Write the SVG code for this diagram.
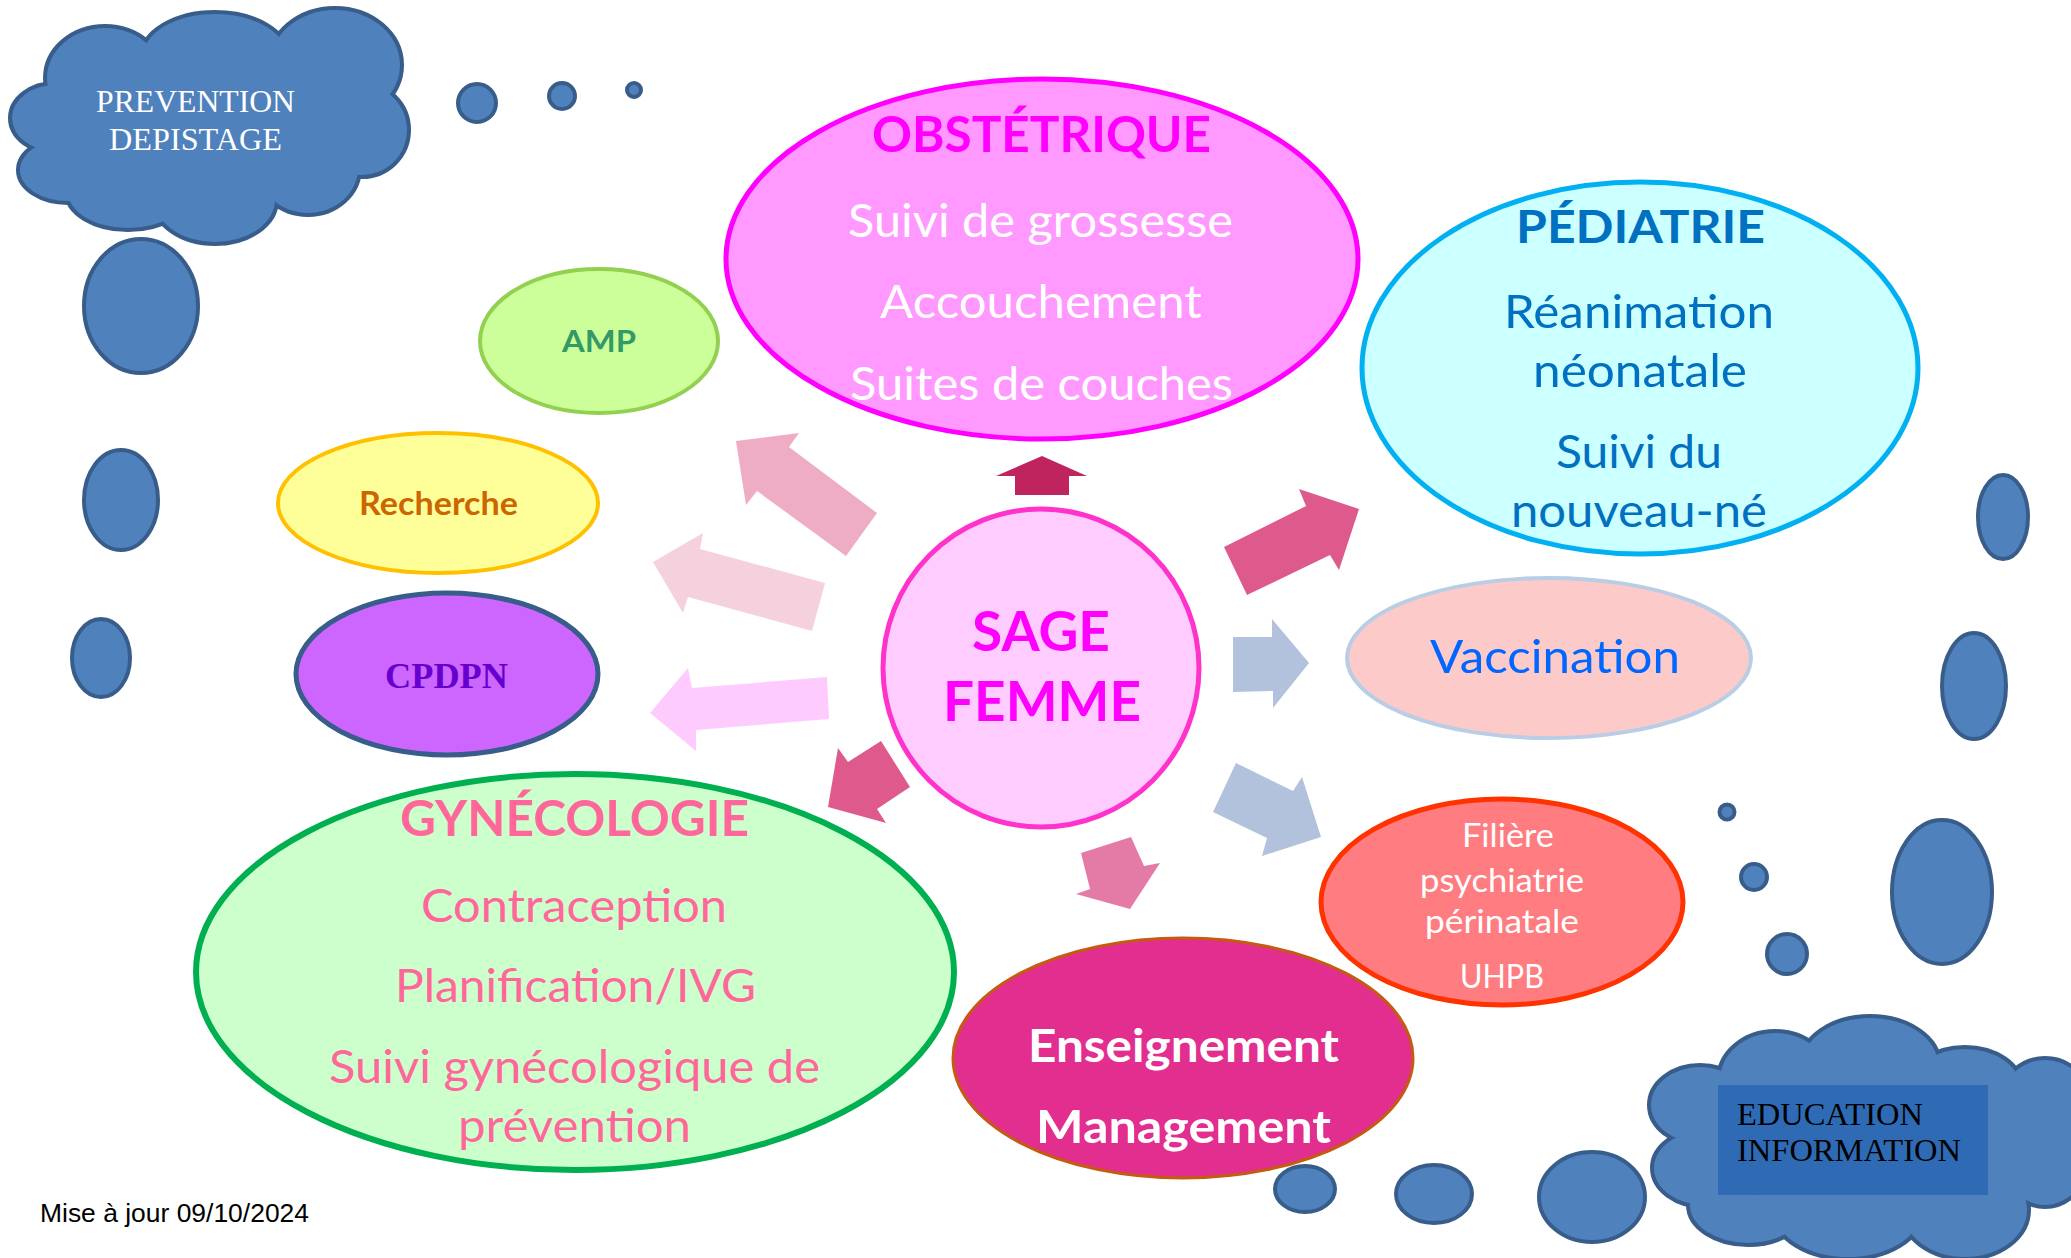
<svg xmlns="http://www.w3.org/2000/svg" width="2071" height="1258" viewBox="0 0 2071 1258">
<style>
.blue{fill:#4f81bd;stroke:#385d8a;stroke-width:4}
.cs{fill:#4f81bd;stroke:#385d8a;stroke-width:8}
.cf{fill:#4f81bd;stroke:none}
.cal{font-family:Lato,"Open Sans","Liberation Sans",sans-serif;text-anchor:middle}
.b{font-weight:700}
.ser{font-family:"Liberation Serif","Times New Roman",serif}
</style>
<rect width="2071" height="1258" fill="#ffffff"/>

<g id="cloud-prevention">
  <g class="cs">
    <ellipse cx="55" cy="118" rx="43" ry="33"/>
    <ellipse cx="68" cy="170" rx="48" ry="31"/>
    <ellipse cx="128" cy="192" rx="60" ry="36"/>
    <ellipse cx="215" cy="200" rx="60" ry="42"/>
    <ellipse cx="308" cy="168" rx="50" ry="45"/>
    <ellipse cx="362" cy="130" rx="45" ry="45"/>
    <ellipse cx="335" cy="65" rx="65" ry="55"/>
    <ellipse cx="215" cy="57" rx="72" ry="43"/>
    <ellipse cx="105" cy="78" rx="58" ry="50"/>
  </g>
  <g class="cf">
    <ellipse cx="55" cy="118" rx="43" ry="33"/>
    <ellipse cx="68" cy="170" rx="48" ry="31"/>
    <ellipse cx="128" cy="192" rx="60" ry="36"/>
    <ellipse cx="215" cy="200" rx="60" ry="42"/>
    <ellipse cx="308" cy="168" rx="50" ry="45"/>
    <ellipse cx="362" cy="130" rx="45" ry="45"/>
    <ellipse cx="335" cy="65" rx="65" ry="55"/>
    <ellipse cx="215" cy="57" rx="72" ry="43"/>
    <ellipse cx="105" cy="78" rx="58" ry="50"/>
    <ellipse cx="210" cy="125" rx="150" ry="80"/>
  </g>
  <text class="ser" x="195.5" y="112" font-size="31" fill="#ffffff" text-anchor="middle" textLength="199" lengthAdjust="spacingAndGlyphs">PREVENTION</text>
  <text class="ser" x="195.5" y="150" font-size="31" fill="#ffffff" text-anchor="middle" textLength="173" lengthAdjust="spacingAndGlyphs">DEPISTAGE</text>
</g>

<g id="bubbles">
  <circle class="blue" cx="477" cy="103" r="19"/>
  <circle class="blue" cx="562" cy="96" r="13"/>
  <circle class="blue" cx="634" cy="90" r="7"/>
  <ellipse class="blue" cx="141" cy="306" rx="57" ry="67"/>
  <ellipse class="blue" cx="121" cy="500" rx="37" ry="50"/>
  <ellipse class="blue" cx="101" cy="658" rx="29" ry="39"/>
  <ellipse class="blue" cx="2003" cy="517" rx="25" ry="42"/>
  <ellipse class="blue" cx="1974" cy="686" rx="32" ry="53"/>
  <circle class="blue" cx="1727" cy="812" r="7.5"/>
  <circle class="blue" cx="1754" cy="877" r="13"/>
  <circle class="blue" cx="1787" cy="954" r="20"/>
  <ellipse class="blue" cx="1942" cy="892" rx="50" ry="72"/>
  <ellipse class="blue" cx="1305" cy="1189" rx="30" ry="23"/>
  <ellipse class="blue" cx="1434" cy="1194" rx="38" ry="29"/>
  <ellipse class="blue" cx="1592" cy="1197" rx="53" ry="45"/>
</g>

<g id="connectors">
  <polygon fill="#c0245e" points="1042,456 1087,476 1069,476 1069,495 1015,495 1015,476 996,476"/>
  <polygon fill="#efacc5" points="736,441 799,433 789,447 877,513 846,556 757,491 746,505"/>
  <polygon fill="#f5d1de" points="653,562 703,533 700,549 825,583 812,631 688,597 683,613"/>
  <polygon fill="#fecbfe" points="650,713 688,668 692,688 827,677 829,719 696,730 696,751"/>
  <polygon fill="#df5a8c" points="828,807 838,748 848,762 881,741 910,787 877,809 886,823"/>
  <polygon fill="#df5a8c" points="1359,509 1299,489 1306,506 1224,547 1247,595 1330,555 1339,570"/>
  <polygon fill="#b2c1dc" points="1309,663 1272,619 1272,637 1233,637 1233,692 1273,691 1273,708"/>
  <polygon fill="#b2c1dc" points="1321,837 1302,777 1293,791 1236,763 1213,812 1267,838 1262,856"/>
  <polygon fill="#e47ba6" points="1130,909 1160,863 1144,866 1131,837 1081,853 1090,889 1076,894"/>
</g>

<g id="amp">
  <ellipse cx="599" cy="341" rx="119" ry="72" fill="#ccff99" stroke="#92d050" stroke-width="4"/>
  <text class="cal b" x="599" y="352" font-size="30" fill="#339966" textLength="74" lengthAdjust="spacingAndGlyphs">AMP</text>
</g>

<g id="recherche">
  <ellipse cx="438" cy="503" rx="160" ry="70" fill="#ffff99" stroke="#ffc000" stroke-width="4"/>
  <text class="cal b" x="438.5" y="515" font-size="33" fill="#cc6600" textLength="159" lengthAdjust="spacingAndGlyphs">Recherche</text>
</g>

<g id="cpdpn">
  <ellipse cx="447" cy="674" rx="151" ry="81" fill="#cc66ff" stroke="#385d8a" stroke-width="5"/>
  <text class="ser" x="446.5" y="688" font-size="36" font-weight="700" fill="#6600cc" text-anchor="middle" textLength="123" lengthAdjust="spacingAndGlyphs">CPDPN</text>
</g>

<g id="obstetrique">
  <ellipse cx="1042" cy="259" rx="316" ry="180" fill="#ff99ff" stroke="#ff00ff" stroke-width="5"/>
  <text class="cal b" x="1041.5" y="152" font-size="50" fill="#ff00ff" textLength="339" lengthAdjust="spacingAndGlyphs">OBSTÉTRIQUE</text>
  <text class="cal" x="1040.5" y="237" font-size="47" fill="#ffffff" textLength="385" lengthAdjust="spacingAndGlyphs">Suivi de grossesse</text>
  <text class="cal" x="1041" y="318" font-size="47" fill="#ffffff" textLength="322" lengthAdjust="spacingAndGlyphs">Accouchement</text>
  <text class="cal" x="1041.5" y="400" font-size="47" fill="#ffffff" textLength="383" lengthAdjust="spacingAndGlyphs">Suites de couches</text>
</g>

<g id="pediatrie">
  <ellipse cx="1640" cy="368" rx="278" ry="186" fill="#ccffff" stroke="#00b0f0" stroke-width="5"/>
  <text class="cal b" x="1640.5" y="243" font-size="46" fill="#0070c0" textLength="249" lengthAdjust="spacingAndGlyphs">PÉDIATRIE</text>
  <text class="cal" x="1639" y="328" font-size="47" fill="#0070c0" textLength="270" lengthAdjust="spacingAndGlyphs">Réanimation</text>
  <text class="cal" x="1640" y="387" font-size="47" fill="#0070c0" textLength="214" lengthAdjust="spacingAndGlyphs">néonatale</text>
  <text class="cal" x="1639" y="468" font-size="47" fill="#0070c0" textLength="166" lengthAdjust="spacingAndGlyphs">Suivi du</text>
  <text class="cal" x="1639" y="527" font-size="47" fill="#0070c0" textLength="256" lengthAdjust="spacingAndGlyphs">nouveau-né</text>
</g>

<g id="sage-femme">
  <ellipse cx="1041" cy="668" rx="158" ry="159" fill="#ffccff" stroke="#ff33cc" stroke-width="5"/>
  <text class="cal b" x="1041" y="651" font-size="55" fill="#ff00ff" textLength="138" lengthAdjust="spacingAndGlyphs">SAGE</text>
  <text class="cal b" x="1042" y="721" font-size="55" fill="#ff00ff" textLength="198" lengthAdjust="spacingAndGlyphs">FEMME</text>
</g>

<g id="vaccination">
  <ellipse cx="1549" cy="658" rx="202" ry="80" fill="#fccbc9" stroke="#b9cde5" stroke-width="4"/>
  <text class="cal" x="1555" y="673" font-size="47" fill="#0066ff" textLength="250" lengthAdjust="spacingAndGlyphs">Vaccination</text>
</g>

<g id="filiere">
  <ellipse cx="1502" cy="902" rx="181" ry="103" fill="#ff7c80" stroke="#ff3300" stroke-width="5"/>
  <text class="cal" x="1508" y="847" font-size="32" fill="#ffffff" textLength="92" lengthAdjust="spacingAndGlyphs">Filière</text>
  <text class="cal" x="1502" y="892" font-size="32" fill="#ffffff" textLength="164" lengthAdjust="spacingAndGlyphs">psychiatrie</text>
  <text class="cal" x="1502" y="933" font-size="32" fill="#ffffff" textLength="154" lengthAdjust="spacingAndGlyphs">périnatale</text>
  <text class="cal" x="1502" y="988" font-size="32" fill="#ffffff" textLength="84" lengthAdjust="spacingAndGlyphs">UHPB</text>
</g>

<g id="gynecologie">
  <ellipse cx="575" cy="972" rx="379" ry="198" fill="#ccffcc" stroke="#00b050" stroke-width="6"/>
  <text class="cal b" x="574.5" y="836" font-size="50" fill="#ff6699" textLength="349" lengthAdjust="spacingAndGlyphs">GYNÉCOLOGIE</text>
  <text class="cal" x="574" y="922" font-size="47" fill="#ff6699" textLength="306" lengthAdjust="spacingAndGlyphs">Contraception</text>
  <text class="cal" x="575.5" y="1002" font-size="47" fill="#ff6699" textLength="361" lengthAdjust="spacingAndGlyphs">Planification/IVG</text>
  <text class="cal" x="574.5" y="1083" font-size="47" fill="#ff6699" textLength="491" lengthAdjust="spacingAndGlyphs">Suivi gynécologique de</text>
  <text class="cal" x="574.5" y="1142" font-size="47" fill="#ff6699" textLength="233" lengthAdjust="spacingAndGlyphs">prévention</text>
</g>

<g id="enseignement">
  <ellipse cx="1183" cy="1058" rx="230" ry="120" fill="#e22e8f" stroke="#c55a11" stroke-width="3"/>
  <text class="cal b" x="1183.5" y="1062" font-size="46" fill="#ffffff" textLength="311" lengthAdjust="spacingAndGlyphs">Enseignement</text>
  <text class="cal b" x="1183.5" y="1143" font-size="46" fill="#ffffff" textLength="295" lengthAdjust="spacingAndGlyphs">Management</text>
</g>

<g id="cloud-education">
  <g class="cs">
    <ellipse cx="1700" cy="1105" rx="49" ry="38"/>
    <ellipse cx="1705" cy="1168" rx="51" ry="37"/>
    <ellipse cx="1748" cy="1205" rx="58" ry="38"/>
    <ellipse cx="1848" cy="1213" rx="72" ry="44"/>
    <ellipse cx="1965" cy="1210" rx="62" ry="47"/>
    <ellipse cx="2045" cy="1150" rx="45" ry="55"/>
    <ellipse cx="2045" cy="1095" rx="40" ry="35"/>
    <ellipse cx="1965" cy="1087" rx="55" ry="38"/>
    <ellipse cx="1870" cy="1065" rx="68" ry="47"/>
    <ellipse cx="1775" cy="1080" rx="55" ry="47"/>
  </g>
  <g class="cf">
    <ellipse cx="1700" cy="1105" rx="49" ry="38"/>
    <ellipse cx="1705" cy="1168" rx="51" ry="37"/>
    <ellipse cx="1748" cy="1205" rx="58" ry="38"/>
    <ellipse cx="1848" cy="1213" rx="72" ry="44"/>
    <ellipse cx="1965" cy="1210" rx="62" ry="47"/>
    <ellipse cx="2045" cy="1150" rx="45" ry="55"/>
    <ellipse cx="2045" cy="1095" rx="40" ry="35"/>
    <ellipse cx="1965" cy="1087" rx="55" ry="38"/>
    <ellipse cx="1870" cy="1065" rx="68" ry="47"/>
    <ellipse cx="1775" cy="1080" rx="55" ry="47"/>
    <ellipse cx="1870" cy="1140" rx="175" ry="80"/>
  </g>
  <rect x="1718" y="1085" width="270" height="110" fill="#2f6bb5"/>
  <text class="ser" x="1737" y="1125" font-size="32" fill="#000000" textLength="186" lengthAdjust="spacingAndGlyphs">EDUCATION</text>
  <text class="ser" x="1737" y="1161" font-size="32" fill="#000000" textLength="224" lengthAdjust="spacingAndGlyphs">INFORMATION</text>
</g>

<text x="40" y="1222" font-family="'Liberation Sans',Arial,sans-serif" font-size="26" fill="#000000" textLength="269" lengthAdjust="spacingAndGlyphs">Mise à jour 09/10/2024</text>
</svg>
